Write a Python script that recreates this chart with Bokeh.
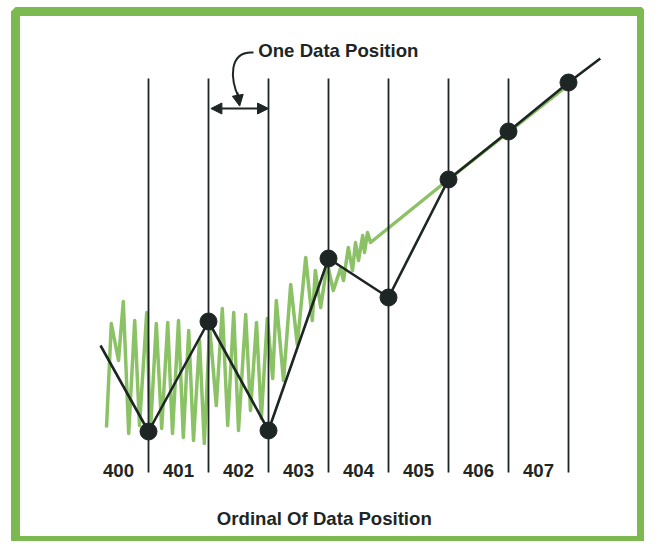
from bokeh.plotting import figure
from bokeh.models import Range1d, Arrow, NormalHead
from bokeh.core.properties import value
from bokeh.embed import file_html
from bokeh.resources import INLINE

# ---- data ----
ordinals = [400, 401, 402, 403, 404, 405, 406, 407]
ordinal_labels = ["400", "401", "402", "403", "404", "405", "406", "407"]
boundary_x = [400.5, 401.5, 402.5, 403.5, 404.5, 405.5, 406.5, 407.5]
sample_y = [10.25, 37.75, 10.5, 53.5, 43.75, 73.25, 85.25, 97.5]
grid_bottom = 0.0
grid_top = 98.5

# interpolated (black) line extends beyond first and last sample
black_start = (399.7, 31.75)
black_end = (408.03, 103.5)

# raw (green) signal
signal_x = [399.80, 399.88, 400.00, 400.08, 400.17, 400.27, 400.35, 400.47,
            400.53, 400.63, 400.72, 400.82, 400.90, 401.00, 401.08, 401.17,
            401.25, 401.35, 401.43, 401.52, 401.63, 401.73, 401.82, 401.92,
            402.00, 402.12, 402.20, 402.30, 402.38, 402.48, 402.57, 402.63,
            402.75, 402.87, 402.98, 403.12, 403.23, 403.28, 403.37, 403.48,
            403.58, 403.70, 403.75, 403.83, 403.90, 403.95, 404.00, 404.07,
            404.10, 404.15, 404.20, 405.50, 407.55]
signal_y = [11.25, 37.25, 28.0, 42.75, 9.75, 38.0, 11.75, 40.0,
            9.75, 37.25, 11.0, 37.5, 9.75, 38.0, 8.75, 35.5,
            8.0, 33.0, 7.25, 36.25, 16.75, 41.0, 11.75, 40.0,
            10.5, 39.5, 15.5, 37.5, 13.5, 38.5, 23.5, 43.0,
            23.0, 47.0, 32.0, 53.75, 38.0, 50.5, 41.25, 52.25,
            45.5, 51.0, 48.0, 56.25, 50.5, 57.5, 53.0, 59.25,
            55.0, 60.0, 57.5, 73.25, 97.5]

# annotation
note_text = "One Data Position"
note_pos = (402.33, 105.5)
span_x = (401.5, 402.5)
span_y = 91.0
axis_title = "Ordinal Of Data Position"
axis_title_pos = (403.43, -11.5)
label_y = 0.5

# ---- styles ----
FRAME_GREEN = "#7cb950"
SIGNAL_GREEN = "#8cc266"
INK = "#1d2624"
FONT = value("Liberation Sans")
FSIZE = "18.6px"

p = figure(width=644, height=541, x_range=Range1d(398.2833, 408.7167),
           y_range=Range1d(-17.25, 115.25), x_axis_type=None, y_axis_type=None,
           toolbar_location=None, output_backend="svg", title=None,
           min_border_left=15, min_border_top=11, min_border_right=3,
           min_border_bottom=0)
p.border_fill_color = "white"
p.background_fill_color = "white"
p.outline_line_color = FRAME_GREEN
p.outline_line_width = 9
p.outline_line_alpha = 1.0

# green raw signal
p.line(signal_x, signal_y, line_color=SIGNAL_GREEN, line_width=3.5,
       line_join="round")

# vertical sample lines
p.segment(x0=boundary_x, y0=[grid_bottom] * len(boundary_x),
          x1=boundary_x, y1=[grid_top] * len(boundary_x),
          line_color=INK, line_width=1.8)

# black interpolated line
bx = [black_start[0]] + boundary_x + [black_end[0]]
by = [black_start[1]] + sample_y + [black_end[1]]
p.line(bx, by, line_color=INK, line_width=2.6)

# sample dots
p.scatter(boundary_x, sample_y, size=17, fill_color=INK, line_color=INK)

# ordinal labels
p.text(x=ordinals, y=[label_y] * len(ordinals), text=ordinal_labels,
       text_font=FONT, text_font_style="bold", text_font_size=FSIZE,
       text_color=INK, text_align="center", text_baseline="middle")

# axis title
p.text(x=[axis_title_pos[0]], y=[axis_title_pos[1]], text=[axis_title],
       text_font=FONT, text_font_style="bold", text_font_size=FSIZE,
       text_color=INK, text_align="center", text_baseline="middle")

# note text
p.text(x=[note_pos[0]], y=[note_pos[1]], text=[note_text],
       text_font=FONT, text_font_style="bold", text_font_size=FSIZE,
       text_color=INK, text_align="left", text_baseline="middle")

# curved pointer
p.bezier(x0=[402.25], y0=[105.0], x1=[402.0], y1=[94.0],
         cx0=[401.83], cy0=[105.5], cx1=[401.86], cy1=[98.0],
         line_color=INK, line_width=2)
p.add_layout(Arrow(end=NormalHead(size=11, fill_color=INK, line_color=INK),
                   x_start=401.98, y_start=95.0, x_end=402.02, y_end=91.6,
                   line_color=INK, line_width=2))

# double-headed span arrow
p.add_layout(Arrow(start=NormalHead(size=11, fill_color=INK, line_color=INK),
                   end=NormalHead(size=11, fill_color=INK, line_color=INK),
                   x_start=span_x[0] + 0.04, y_start=span_y,
                   x_end=span_x[1], y_end=span_y,
                   line_color=INK, line_width=2))

open("out.html", "w").write(file_html(p, INLINE))
